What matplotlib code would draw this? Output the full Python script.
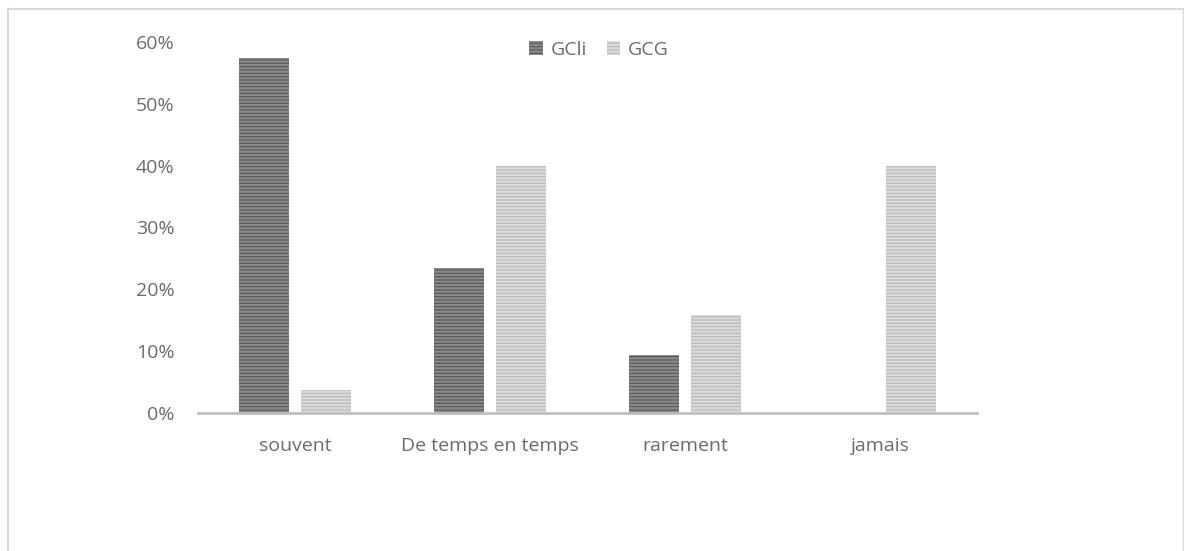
import matplotlib
matplotlib.use("Agg")
import matplotlib.pyplot as plt
import numpy as np
from matplotlib.lines import Line2D

categories = ["souvent", "De temps en temps", "rarement", "jamais"]
series_names = ["GCli", "GCG"]
gcli = [0.574, 0.235, 0.094, 0.0]
gcg = [0.037, 0.40, 0.159, 0.40]
yticks = [0, 0.1, 0.2, 0.3, 0.4, 0.5, 0.6]
ytick_labels = ["0%", "10%", "20%", "30%", "40%", "50%", "60%"]

plt.rcParams['font.family'] = ['Open Sans', 'DejaVu Sans']
plt.rcParams['hatch.linewidth'] = 1.6

W, H = 1184, 551
fig = plt.figure(figsize=(W / 100, H / 100), dpi=100)
ax = fig.add_axes([198 / W, (H - 413) / H, (977 - 198) / W, (413 - 42) / H])

x = np.arange(len(categories))
bw = 0.256
gap = 0.062
txt = "#6b6b6b"

b1 = ax.bar(x - gap / 2 - bw / 2, gcli, bw, color="#575757", edgecolor="#8a8a8a",
            hatch="-----", linewidth=0, label=series_names[0])
b2 = ax.bar(x + gap / 2 + bw / 2, gcg, bw, color="#b8b8b8", edgecolor="#dadada",
            hatch="-----", linewidth=0, label=series_names[1])

ax.set_xlim(-0.5, len(categories) - 0.5)
ax.set_ylim(0, 0.6)
ax.set_yticks(yticks)
ax.set_yticklabels(ytick_labels)
ax.set_xticks(x)
ax.set_xticklabels(categories)
ax.tick_params(axis='both', length=0, labelsize=14, colors=txt)
ax.tick_params(axis='y', pad=17)
ax.tick_params(axis='x', pad=17)
for s in ["top", "right", "left"]:
    ax.spines[s].set_visible(False)
ax.spines["bottom"].set_color("#bfbfbf")
ax.spines["bottom"].set_linewidth(2)

leg = ax.legend(loc="upper center", bbox_to_anchor=(0.515, 1.05), ncol=2, frameon=False,
                fontsize=14, handlelength=0.7, handleheight=0.7, handletextpad=0.4,
                columnspacing=1.0)
for t in leg.get_texts():
    t.set_color(txt)

# figure border (top, left, right)
c = "#d9d9d9"
fig.add_artist(Line2D([8 / W, 1183 / W], [1 - 9 / H, 1 - 9 / H], color=c, lw=1.5))
fig.add_artist(Line2D([8 / W, 8 / W], [0, 1 - 9 / H], color=c, lw=1.5))
fig.add_artist(Line2D([1183 / W, 1183 / W], [0, 1 - 9 / H], color=c, lw=1.0))

fig.savefig("out.png", dpi=100, facecolor="white")
